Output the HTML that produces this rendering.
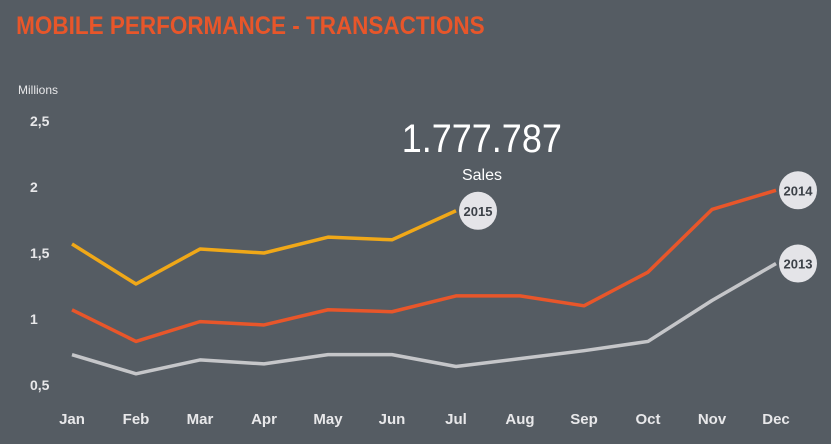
<!DOCTYPE html>
<html><head><meta charset="utf-8"><style>
html,body{margin:0;padding:0;background:#555c63;}
svg{display:block;font-family:"Liberation Sans",sans-serif;}
</style></head><body>
<svg width="831" height="444" viewBox="0 0 831 444">
<rect width="831" height="444" fill="#555c63"/>
<text x="18" y="34" fill="#e8562a" font-size="25" font-weight="bold" transform="scale(0.9,1)">MOBILE PERFORMANCE - TRANSACTIONS</text>
<text x="18" y="94" fill="#e8e8ea" font-size="12">Millions</text>
<text x="482" y="152" fill="#ffffff" font-size="40" text-anchor="middle" transform="translate(48,0) scale(0.9,1)">1.777.787</text>
<text x="482" y="180" fill="#ffffff" font-size="16" text-anchor="middle">Sales</text>
<g id="axes"></g>
<g id="series"></g>
</svg>
<script>
const months=["Jan","Feb","Mar","Apr","May","Jun","Jul","Aug","Sep","Oct","Nov","Dec"];
const yTicks=[0.5,1,1.5,2,2.5];
const yTickLabels=["0,5","1","1,5","2","2,5"];
const s2013=[0.73,0.585,0.69,0.66,0.73,0.73,0.64,0.7,0.76,0.83,1.14,1.42];
const s2014=[1.07,0.83,0.98,0.955,1.07,1.055,1.175,1.175,1.1,1.355,1.83,1.975];
const s2015=[1.568,1.265,1.53,1.5,1.62,1.6,1.82];
const NS="http://www.w3.org/2000/svg";
const x=i=>72+i*64;
const y=v=>385-(v-0.5)*132;
const axes=document.getElementById('axes'),ser=document.getElementById('series');
function mk(t,a,p){const e=document.createElementNS(NS,t);for(const k in a)e.setAttribute(k,a[k]);p.appendChild(e);return e;}
yTicks.forEach((v,i)=>{const t=mk('text',{x:30,y:y(v)+5,fill:'#e8e8ea','font-size':14,'font-weight':'bold','text-anchor':'start'},axes);


t.textContent=yTickLabels[i];});
months.forEach((m,i)=>{const t=mk('text',{x:x(i),y:424,fill:'#e8e8ea','font-size':15,'font-weight':'bold','text-anchor':'middle'},axes);


t.textContent=m;});
function line(data,color,label){
const p=mk('polyline',{points:data.map((v,i)=>x(i)+','+y(v)).join(' '),fill:'none',stroke:color,'stroke-width':3.5,'stroke-linejoin':'round'},ser);


const n=data.length-1;
const c=mk('circle',{cx:x(n)+22,cy:y(data[n]),r:19,fill:'#e4e4e8'},ser);


const t=mk('text',{x:x(n)+22,y:y(data[n])+5,fill:'#3c4148','font-size':13,'font-weight':'bold','text-anchor':'middle'},ser);


t.textContent=label;}
line(s2013,'#c5c6c9','2013');
line(s2014,'#e8562a','2014');
line(s2015,'#f0a818','2015');
</script>
</body></html>
